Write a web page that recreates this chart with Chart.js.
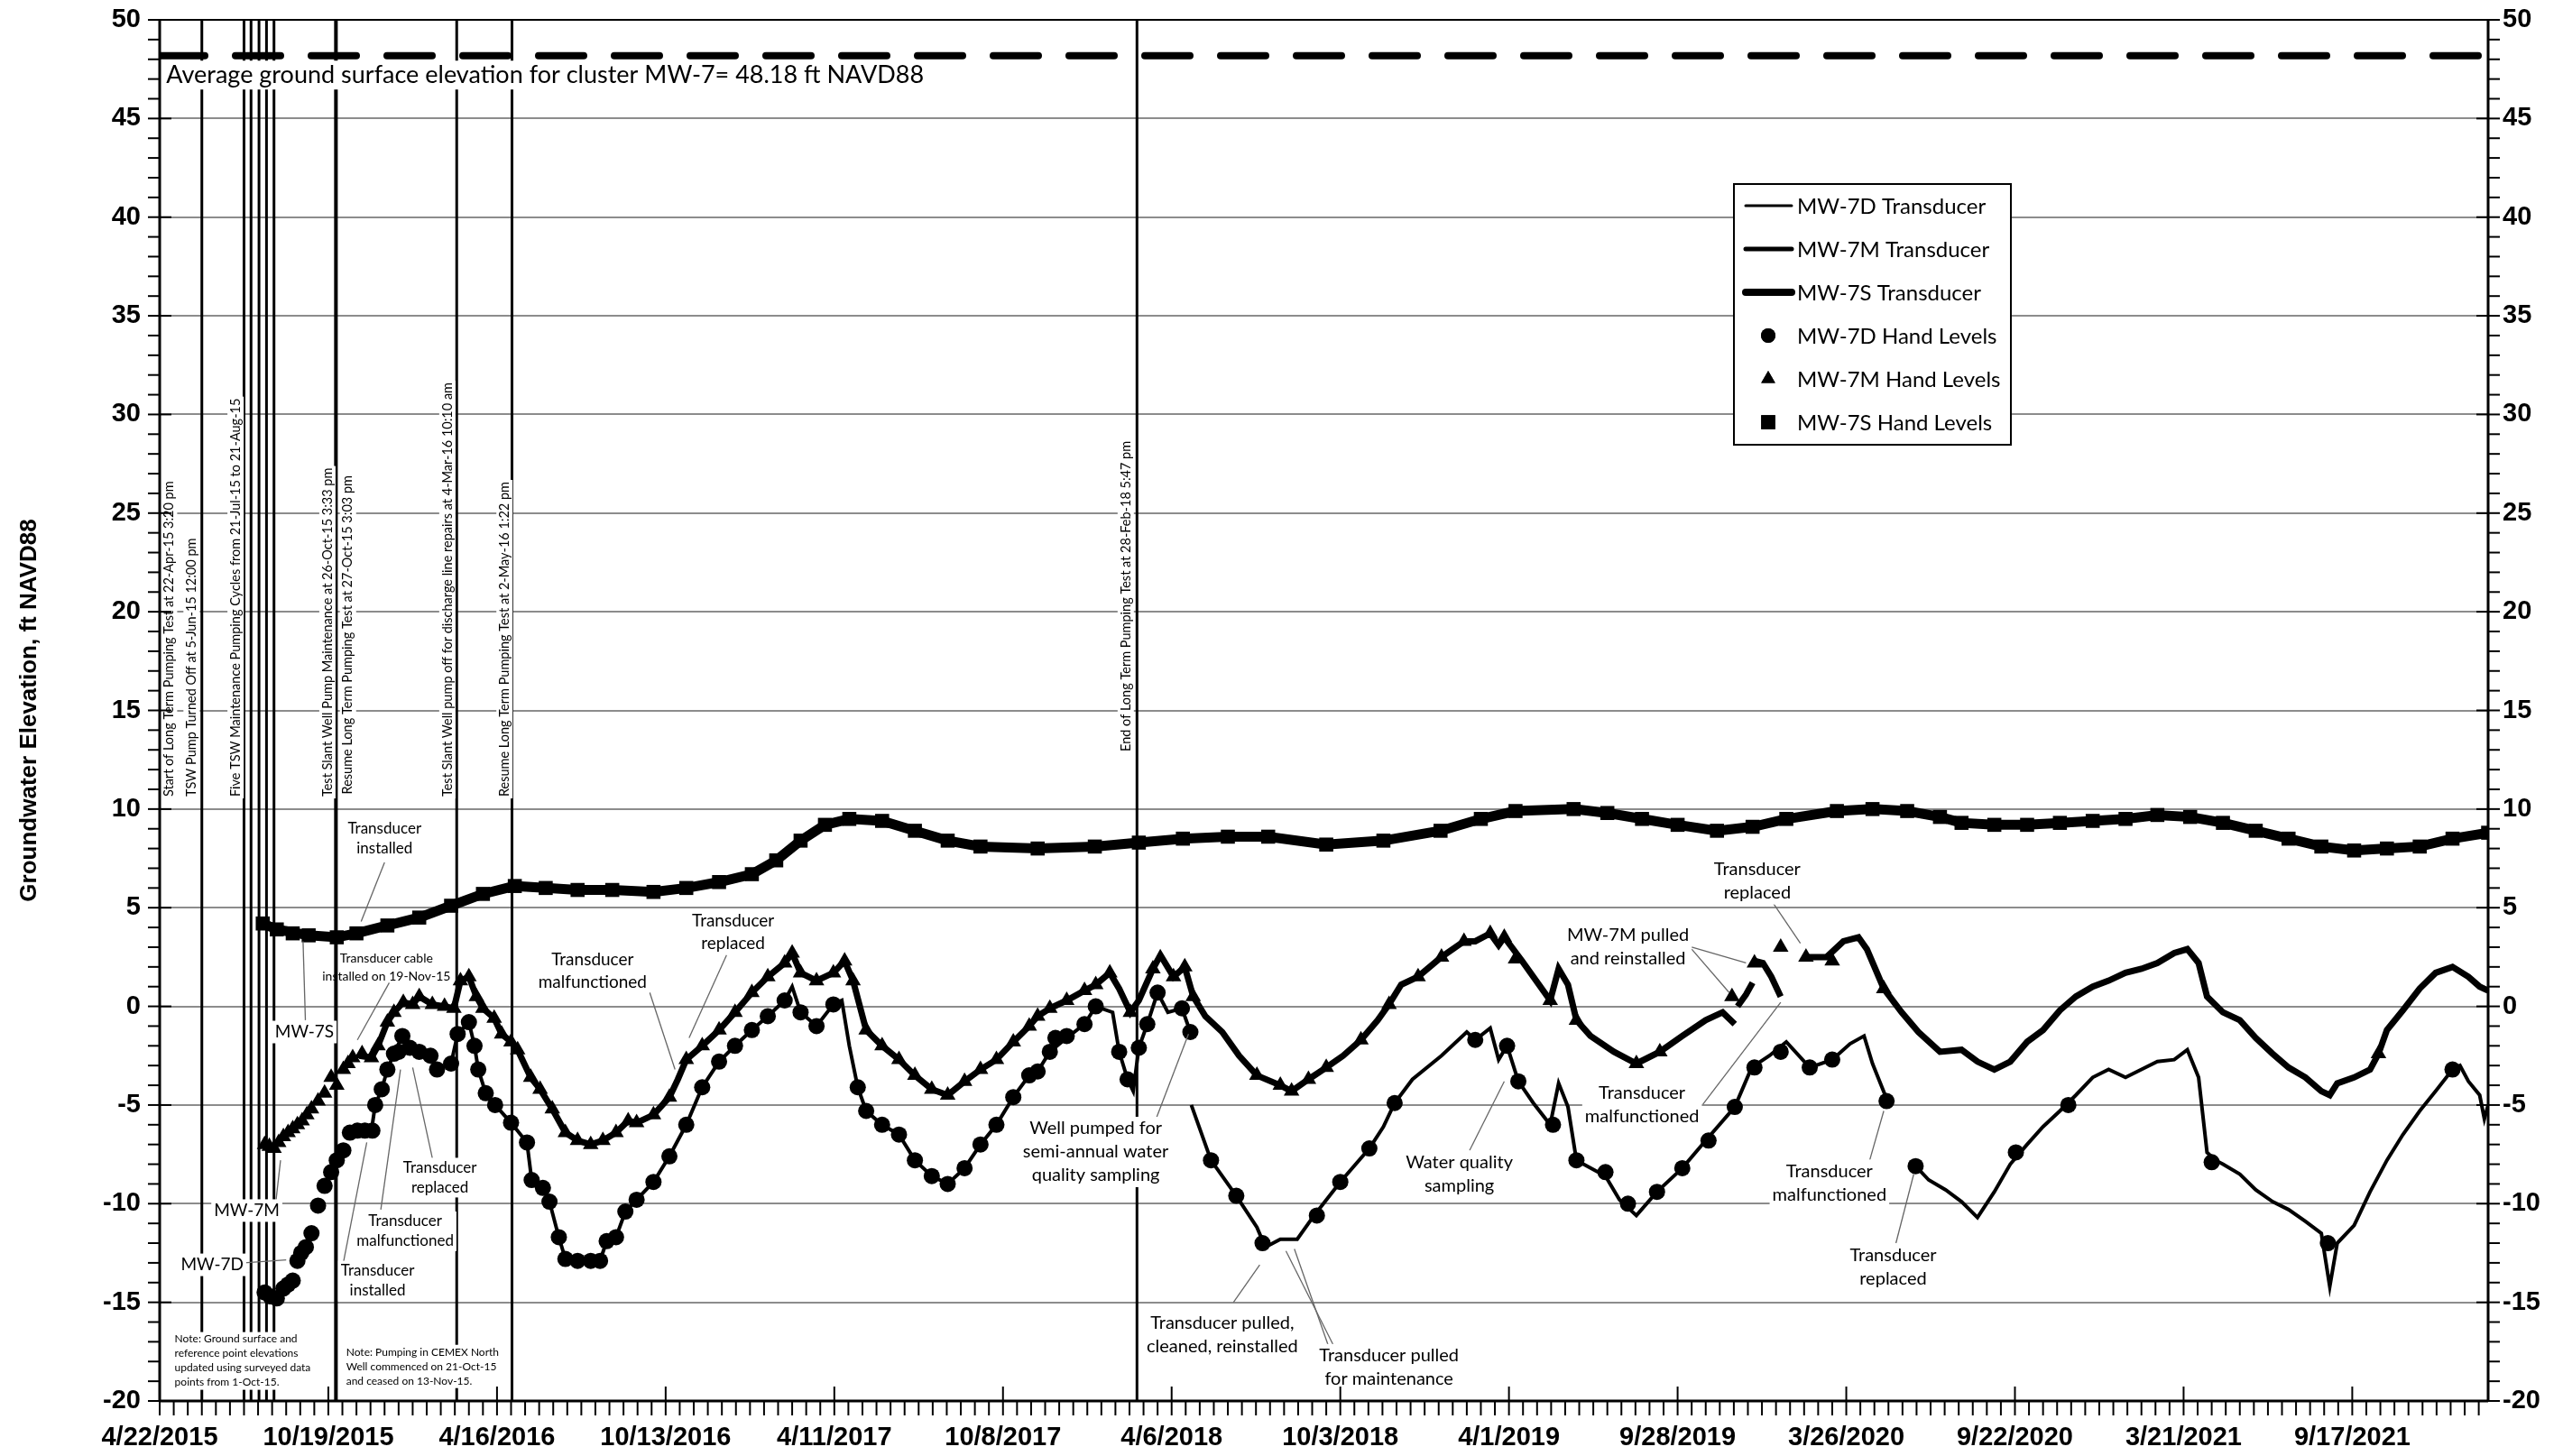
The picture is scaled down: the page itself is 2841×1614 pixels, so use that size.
<!DOCTYPE html>
<html>
<head>
<meta charset="utf-8">
<title>MW-7 groundwater elevation</title>
<script src="https://cdn.jsdelivr.net/npm/chart.js@4.4.1/dist/chart.umd.min.js"></script>
<style>
  html, body { margin: 0; padding: 0; background: #fff; }
</style>
</head>
<body>
<canvas id="chart-mw7" width="2841" height="1614"></canvas>
<script>
// x values are days counted from 4/22/2015 (start of the long term pumping test)
const xTickLabels = ['4/22/2015', '10/19/2015', '4/16/2016', '10/13/2016', '4/11/2017', '10/8/2017', '4/6/2018',
  '10/3/2018', '4/1/2019', '9/28/2019', '3/26/2020', '9/22/2020', '3/21/2021', '9/17/2021'];
const xTickStep = 180;
const xMax = 2485;
const yMin = -20, yMax = 50, yStep = 5;
const groundElev = 48.18;

// [day, elevation ft NAVD88]; null = gap in the record
const mw7dTransducer = [
  [226,-6.3],[230,-5.0],[237,-4.2],[243,-3.2],[250,-2.4],[259,-1.5],[262,-2.0],[267,-2.1],[277,-2.3],[289,-2.5],
  [296,-3.2],[311,-2.9],[318,-1.4],[330,-0.8],[336,-2.0],[340,-3.2],[348,-4.4],[358,-5.0],[375,-5.9],[392,-6.9],
  [397,-8.8],[409,-9.2],[416,-9.9],[426,-11.7],[433,-12.8],[446,-12.9],[460,-12.9],[470,-12.9],[477,-11.9],[487,-11.7],
  [497,-10.4],[509,-9.8],[527,-8.9],[544,-7.6],[562,-6.0],[579,-4.1],[597,-2.8],[614,-2.0],[632,-1.2],[649,-0.5],
  [667,0.3],[675,1.0],[684,-0.3],[701,-1.0],[719,0.1],[728,0.3],[736,-2.0],[745,-4.1],[754,-5.3],[771,-6.0],
  [789,-6.5],[806,-7.8],[824,-8.6],[841,-9.0],[859,-8.2],[876,-7.0],[893,-6.0],[911,-4.6],[928,-3.5],[937,-3.3],
  [950,-2.3],[968,-1.6],[987,-0.9],[999,0.0],[1017,-0.3],[1024,-2.3],[1033,-3.7],[1039,-4.3],[1045,-2.1],[1054,-0.9],
  [1065,0.7],[1076,-0.3],[1091,-0.1],[1100,-1.3],[1100.5,null],
  [1101,-5.0],[1122,-7.8],[1149,-9.6],[1171,-11.2],[1180,-12.2],[1196,-11.8],[1214,-11.8],[1232,-10.6],[1260,-8.9],
  [1291,-7.2],[1306,-6.1],[1318,-4.9],[1337,-3.7],[1368,-2.5],[1395,-1.3],[1404,-1.7],[1420,-1.1],[1429,-2.7],
  [1438,-2.0],[1450,-3.8],[1466,-4.9],[1484,-6.0],[1493,-3.9],[1503,-5.1],[1512,-7.8],[1543,-8.6],[1558,-9.8],
  [1576,-10.6],[1598,-9.4],[1625,-8.2],[1650,-6.8],[1681,-5.1],[1699,-3.1],[1718,-2.5],[1736,-1.8],[1761,-3.1],
  [1785,-2.7],[1804,-1.9],[1819,-1.5],[1828,-2.9],[1844,-4.8],[1860,null],
  [1874,-8.1],[1888,-8.8],[1906,-9.3],[1923,-9.9],[1940,-10.7],[1958,-9.4],[1975,-8.0],[1993,-7.0],[2010,-6.1],
  [2028,-5.3],[2045,-4.5],[2063,-3.6],[2080,-3.2],[2098,-3.6],[2115,-3.2],[2132,-2.8],[2150,-2.7],[2164,-2.2],
  [2176,-3.6],[2185,-7.4],[2194,-7.8],[2202,-8.0],[2220,-8.5],[2237,-9.3],[2255,-9.9],[2272,-10.3],[2290,-10.9],
  [2307,-11.5],[2316,-14.2],[2324,-12.0],[2342,-11.1],[2359,-9.4],[2377,-7.8],[2394,-6.5],[2412,-5.3],[2429,-4.3],
  [2447,-3.2],[2455,-3.0],[2464,-3.8],[2476,-4.5],[2481,-5.7],[2485,-5.0]
];

const mw7mTransducer = [
  [213,-2.5],[226,-2.6],[233,-2.0],[243,-0.8],[250,-0.3],[260,0.2],[270,0.1],[277,0.5],[291,0.1],[304,0.0],
  [314,-0.1],[321,1.3],[330,1.5],[338,0.5],[345,-0.1],[357,-0.6],[365,-1.4],[375,-1.8],[382,-2.2],[396,-3.6],
  [406,-4.2],[419,-5.2],[433,-6.4],[446,-6.8],[460,-7.0],[473,-6.8],[487,-6.4],[500,-5.8],[509,-5.9],[527,-5.5],
  [544,-4.6],[553,-3.7],[562,-2.7],[579,-2.0],[597,-1.2],[614,-0.3],[632,0.7],[649,1.5],[667,2.2],[675,2.7],
  [684,1.7],[701,1.3],[719,1.7],[731,2.3],[740,1.3],[754,-1.2],[771,-2.0],[789,-2.7],[806,-3.5],[824,-4.2],
  [841,-4.5],[859,-3.8],[876,-3.2],[893,-2.7],[911,-1.8],[928,-1.0],[937,-0.5],[950,-0.1],[968,0.3],[987,0.8],
  [999,1.1],[1014,1.7],[1024,0.9],[1036,-0.3],[1045,0.3],[1060,1.9],[1068,2.6],[1082,1.5],[1094,2.0],[1103,0.5],
  [1116,-0.5],[1134,-1.3],[1152,-2.5],[1171,-3.5],[1196,-4.0],[1208,-4.3],[1226,-3.7],[1245,-3.1],[1263,-2.5],
  [1282,-1.7],[1300,-0.7],[1312,0.1],[1325,1.1],[1343,1.5],[1368,2.5],[1392,3.3],[1404,3.3],[1420,3.7],[1429,3.1],
  [1435,3.5],[1454,2.3],[1472,1.1],[1484,0.3],[1493,1.9],[1503,1.1],[1512,-0.7],[1527,-1.5],[1552,-2.3],[1576,-2.9],
  [1601,-2.3],[1625,-1.5],[1650,-0.7],[1668,-0.3],[1681,-0.9],[1682,null],
  [1684,0.0],[1693,0.6],[1700,1.2],[1701,null],
  [1703,2.3],[1711,2.2],[1720,1.5],[1730,0.5],[1740,null],
  [1757,2.5],[1779,2.5],[1797,3.3],[1813,3.5],[1822,2.9],[1840,0.9],[1859,-0.3],[1877,-1.3],[1900,-2.3],[1923,-2.2],
  [1940,-2.8],[1958,-3.2],[1975,-2.8],[1993,-1.8],[2010,-1.2],[2028,-0.2],[2045,0.5],[2063,1.0],[2080,1.3],[2098,1.7],
  [2115,1.9],[2132,2.2],[2150,2.7],[2164,2.9],[2176,2.2],[2185,0.5],[2202,-0.3],[2220,-0.7],[2237,-1.6],[2255,-2.4],
  [2272,-3.1],[2290,-3.6],[2307,-4.3],[2316,-4.5],[2324,-3.9],[2342,-3.6],[2359,-3.2],[2368,-2.4],[2377,-1.2],
  [2394,-0.2],[2412,0.9],[2429,1.7],[2447,2.0],[2464,1.5],[2476,1.0],[2485,0.8]
];

const mw7sTransducer = [
  [110,4.2],[125,3.9],[159,3.6],[189,3.5],[210,3.7],[243,4.1],[277,4.5],[311,5.1],[345,5.7],[379,6.1],[412,6.0],
  [446,5.9],[483,5.9],[527,5.8],[562,6.0],[597,6.3],[632,6.7],[658,7.4],[684,8.4],[710,9.2],[736,9.5],[771,9.4],
  [806,8.9],[841,8.4],[876,8.1],[937,8.0],[998,8.1],[1045,8.3],[1092,8.5],[1140,8.6],[1183,8.6],[1245,8.2],
  [1306,8.4],[1367,8.9],[1410,9.5],[1447,9.9],[1509,10.0],[1545,9.8],[1582,9.5],[1620,9.2],[1662,8.9],[1700,9.1],
  [1736,9.5],[1790,9.9],[1828,10.0],[1865,9.9],[1900,9.6],[1923,9.3],[1958,9.2],[1993,9.2],[2028,9.3],[2063,9.4],
  [2098,9.5],[2132,9.7],[2167,9.6],[2202,9.3],[2237,8.9],[2272,8.5],[2307,8.1],[2342,7.9],[2377,8.0],[2412,8.1],
  [2447,8.5],[2485,8.8]
];

const mw7dHand = [
  [112,-14.5],[118,-14.7],[125,-14.8],[132,-14.3],[137,-14.1],[142,-13.9],[147,-12.9],[151,-12.5],[156,-12.2],
  [162,-11.5],[169,-10.1],[176,-9.1],[183,-8.4],[189,-7.8],[196,-7.3],[203,-6.4],[211,-6.3],[219,-6.3],[227,-6.3],
  [230,-5.0],[237,-4.2],[243,-3.2],[250,-2.4],[255,-2.3],[259,-1.5],[267,-2.1],[277,-2.3],[289,-2.5],[296,-3.2],
  [311,-2.9],[318,-1.4],[330,-0.8],[336,-2.0],[340,-3.2],[348,-4.4],[358,-5.0],[375,-5.9],[392,-6.9],[397,-8.8],
  [409,-9.2],[416,-9.9],[426,-11.7],[433,-12.8],[446,-12.9],[460,-12.9],[470,-12.9],[477,-11.9],[487,-11.7],
  [497,-10.4],[509,-9.8],[527,-8.9],[544,-7.6],[562,-6.0],[579,-4.1],[597,-2.8],[614,-2.0],[632,-1.2],[649,-0.5],
  [667,0.3],[684,-0.3],[701,-1.0],[719,0.1],[745,-4.1],[754,-5.3],[771,-6.0],[789,-6.5],[806,-7.8],[824,-8.6],
  [841,-9.0],[859,-8.2],[876,-7.0],[893,-6.0],[911,-4.6],[928,-3.5],[937,-3.3],[950,-2.3],[956,-1.6],[968,-1.5],
  [987,-0.9],[999,0.0],[1024,-2.3],[1033,-3.7],[1045,-2.1],[1054,-0.9],[1065,0.7],[1091,-0.1],[1100,-1.3],
  [1122,-7.8],[1149,-9.6],[1177,-12.0],[1235,-10.6],[1260,-8.9],[1291,-7.2],[1318,-4.9],[1404,-1.7],[1438,-2.0],
  [1450,-3.8],[1487,-6.0],[1512,-7.8],[1543,-8.4],[1567,-10.0],[1598,-9.4],[1625,-8.2],[1653,-6.8],[1681,-5.1],
  [1702,-3.1],[1730,-2.3],[1761,-3.1],[1785,-2.7],[1843,-4.8],[1874,-8.1],[1981,-7.4],[2037,-5.0],[2190,-7.9],
  [2314,-12.0],[2447,-3.2]
];

const mw7mHand = [
  [112,-7.0],[117,-7.1],[122,-7.2],[127,-6.9],[132,-6.6],[137,-6.4],[142,-6.2],[147,-6.0],[152,-5.8],[157,-5.5],
  [162,-5.2],[169,-4.8],[176,-4.4],[183,-3.6],[189,-4.0],[196,-3.2],[201,-2.9],[206,-2.6],[216,-2.4],[226,-2.6],
  [233,-2.0],[243,-0.8],[250,-0.3],[260,0.2],[270,0.1],[277,0.5],[291,0.1],[304,0.0],[314,-0.1],[321,1.3],[330,1.5],
  [338,0.5],[345,-0.1],[357,-0.6],[365,-1.4],[375,-1.8],[382,-2.2],[396,-3.6],[406,-4.2],[419,-5.2],[433,-6.4],
  [446,-6.8],[460,-7.0],[473,-6.8],[487,-6.4],[500,-5.8],[509,-5.9],[527,-5.5],[544,-4.6],[562,-2.7],[579,-2.0],
  [597,-1.2],[614,-0.3],[632,0.7],[649,1.5],[667,2.2],[675,2.7],[684,1.7],[701,1.3],[719,1.7],[731,2.3],[740,1.3],
  [754,-1.2],[771,-2.0],[789,-2.7],[806,-3.5],[824,-4.2],[841,-4.5],[859,-3.8],[876,-3.2],[893,-2.7],[911,-1.8],
  [928,-1.0],[937,-0.5],[950,-0.1],[968,0.3],[987,0.8],[999,1.1],[1014,1.7],[1036,-0.3],[1060,1.9],[1082,1.5],
  [1094,2.0],[1103,0.5],[1171,-3.5],[1196,-4.0],[1208,-4.3],[1226,-3.7],[1245,-3.1],[1282,-1.7],[1312,0.1],
  [1343,1.5],[1368,2.5],[1392,3.3],[1420,3.7],[1435,3.5],[1447,2.4],[1484,0.3],[1512,-0.7],[1576,-2.9],[1601,-2.3],
  [1678,0.5],[1702,2.2],[1730,3.0],[1757,2.5],[1785,2.3],[1840,0.9],[2368,-2.4]
];

const mw7sHand = [
  [110,4.2],[125,3.9],[142,3.7],[159,3.6],[189,3.5],[210,3.7],[243,4.1],[277,4.5],[311,5.1],[345,5.7],[379,6.1],
  [412,6.0],[446,5.9],[483,5.9],[527,5.8],[562,6.0],[597,6.3],[632,6.7],[658,7.4],[684,8.4],[710,9.2],[736,9.5],
  [771,9.4],[806,8.9],[841,8.4],[876,8.1],[937,8.0],[998,8.1],[1045,8.3],[1092,8.5],[1140,8.6],[1183,8.6],
  [1245,8.2],[1306,8.4],[1367,8.9],[1410,9.5],[1447,9.9],[1509,10.0],[1545,9.8],[1582,9.5],[1620,9.2],[1662,8.9],
  [1700,9.1],[1736,9.5],[1790,9.9],[1828,10.0],[1865,9.9],[1900,9.6],[1923,9.3],[1958,9.2],[1993,9.2],[2028,9.3],
  [2063,9.4],[2098,9.5],[2132,9.7],[2167,9.6],[2202,9.3],[2237,8.9],[2272,8.5],[2307,8.1],[2342,7.9],[2377,8.0],
  [2412,8.1],[2447,8.5],[2485,8.8]
];

// pumping test events, vertical lines
const eventDays = [45, 90, 97.5, 106, 114, 122, 187.6, 188.6, 317, 376, 1043];
const eventTexts = [
  'Start of Long Term Pumping Test at 22-Apr-15 3:20 pm',
  'TSW Pump Turned Off at 5-Jun-15 12:00 pm',
  'Five TSW Maintenance Pumping Cycles from 21-Jul-15 to 21-Aug-15',
  'Test Slant Well Pump Maintenance at 26-Oct-15 3:33 pm',
  'Resume Long Term Pumping Test at 27-Oct-15 3:03 pm',
  'Test Slant Well pump off for discharge line repairs at 4-Mar-16 10:10 am',
  'Resume Long Term Pumping Test at 2-May-16 1:22 pm',
  'End of Long Term Pumping Test at 28-Feb-18 5:47 pm'
];
const eventTextAt = [[10,10.63],[34,10.63],[81,10.63],[179,10.63],[201,10.75],[307,10.63],[368,10.63],[1031,12.92]];

const FONT = "Lato, 'Liberation Sans', sans-serif";
const TICKFONT = "'Liberation Sans', Arial, sans-serif";

// callouts: text block centre [day, elev], leader lines [[from],[to]]
const callouts = [
  { lines: ['Transducer', 'installed'], at: [240, 8.5], size: 17, leaders: [[[240, 7.3], [215, 4.3]]] },
  { lines: ['MW-7S'], at: [154.5, -1.3], size: 19, leaders: [[[155.5, -0.7], [153, 3.3]]] },
  { lines: ['Transducer cable', 'installed on 19-Nov-15'], at: [242, 1.97], size: 14, lh: 20, bg: false,
    leaders: [[[245, 1.2], [211, -1.7]]] },
  { lines: ['MW-7M'], at: [93, -10.35], size: 19, leaders: [[[124, -9.9], [129, -7.8]]] },
  { lines: ['MW-7D'], at: [56, -13.1], size: 19, leaders: [[[90, -13.0], [135, -12.85]]] },
  { lines: ['Transducer', 'replaced'], at: [299, -8.68], size: 17, leaders: [[[291, -7.7], [270, -3.1]]] },
  { lines: ['Transducer', 'malfunctioned'], at: [262, -11.4], size: 17, leaders: [[[236, -10.3], [257, -3.2]]] },
  { lines: ['Transducer', 'installed'], at: [232.6, -13.9], size: 17, leaders: [[[196, -13.0], [221, -6.9]]] },
  { lines: ['Transducer', 'malfunctioned'], at: [462, 1.8], size: 19, leaders: [[[523, 0.7], [550, -3.2]]] },
  { lines: ['Transducer', 'replaced'], at: [612, 3.77], size: 19, leaders: [[[605, 2.6], [565, -1.6]]] },
  { lines: ['Well pumped for', 'semi-annual water', 'quality sampling'], at: [999, -7.38], size: 20,
    leaders: [[[1063, -5.75], [1098, -1.4]]] },
  { lines: ['Transducer pulled,', 'cleaned, reinstalled'], at: [1134, -16.65], size: 20,
    leaders: [[[1146, -15.0], [1174, -13.1]]] },
  { lines: ['Transducer pulled', 'for maintenance'], at: [1312, -18.3], size: 20,
    leaders: [[[1254, -17.3], [1202, -12.4]], [[1248, -17.3], [1211, -12.3]]] },
  { lines: ['Water quality', 'sampling'], at: [1387, -8.5], size: 20, leaders: [[[1398, -7.3], [1435, -3.8]]] },
  { lines: ['Transducer', 'malfunctioned'], at: [1582, -4.97], size: 20, leaders: [[[1647, -4.96], [1730, 0.2]]] },
  { lines: ['MW-7M pulled', 'and reinstalled'], at: [1567, 3.04], size: 20,
    leaders: [[[1635, 3.0], [1693, 2.2]], [[1635, 2.9], [1675, 0.7]]] },
  { lines: ['Transducer', 'replaced'], at: [1705, 6.35], size: 20, leaders: [[[1721, 5.3], [1751, 3.2]]] },
  { lines: ['Transducer', 'malfunctioned'], at: [1782, -8.95], size: 20, leaders: [[[1825, -7.8], [1840, -5.3]]] },
  { lines: ['Transducer', 'replaced'], at: [1850, -13.2], size: 20, leaders: [[[1853, -12.0], [1872, -8.5]]] }
];

const notes = [
  { lines: ['Note: Ground surface and', 'reference point elevations', 'updated using surveyed data', 'points from 1-Oct-15.'],
    at: [16, -17.97] },
  { lines: ['Note: Pumping in CEMEX North', 'Well commenced on 21-Oct-15', 'and ceased on 13-Nov-15.'],
    at: [199, -18.25] }
];
const groundText = 'Average ground surface elevation for cluster MW-7= 48.18 ft NAVD88';

function toXY(pairs) {
  return pairs.map(p => ({ x: p[0], y: p[1] }));
}

function textBlock(ctx, px, py, lines, size, lh, align, bg) {
  ctx.font = size + 'px ' + FONT;
  const w = Math.max(...lines.map(l => ctx.measureText(l).width));
  const h = lines.length * lh;
  const left = align === 'left' ? px : px - w / 2;
  if (bg) {
    ctx.fillStyle = '#fff';
    ctx.fillRect(left - 3, py - h / 2, w + 6, h);
  }
  ctx.fillStyle = '#000';
  ctx.textAlign = align;
  ctx.textBaseline = 'middle';
  lines.forEach((l, i) => ctx.fillText(l, px, py - h / 2 + lh * (i + 0.5)));
}

const annotations = {
  id: 'annotations',
  beforeDatasetsDraw(chart) {
    const { ctx, scales: { x, y } } = chart;
    ctx.save();
    ctx.strokeStyle = '#000';
    ctx.lineWidth = 3;
    eventDays.forEach(d => {
      const px = x.getPixelForValue(d);
      ctx.beginPath();
      ctx.moveTo(px, y.getPixelForValue(yMax));
      ctx.lineTo(px, y.getPixelForValue(yMin));
      ctx.stroke();
    });
    ctx.restore();
  },
  afterDatasetsDraw(chart) {
    const { ctx, scales: { x, y } } = chart;
    ctx.save();
    // leader lines
    ctx.strokeStyle = '#666';
    ctx.lineWidth = 1.3;
    callouts.forEach(c => c.leaders.forEach(([a, b]) => {
      ctx.beginPath();
      ctx.moveTo(x.getPixelForValue(a[0]), y.getPixelForValue(a[1]));
      ctx.lineTo(x.getPixelForValue(b[0]), y.getPixelForValue(b[1]));
      ctx.stroke();
    }));
    callouts.forEach(c => {
      textBlock(ctx, x.getPixelForValue(c.at[0]), y.getPixelForValue(c.at[1]), c.lines, c.size,
        c.lh || Math.round(c.size * 1.3), 'center', c.bg !== false);
    });
    notes.forEach(n => {
      textBlock(ctx, x.getPixelForValue(n.at[0]), y.getPixelForValue(n.at[1]), n.lines, 12, 16, 'left', true);
    });
    // rotated event texts
    ctx.font = '14.5px ' + FONT;
    eventTexts.forEach((t, i) => {
      const [d, v] = eventTextAt[i];
      const w = ctx.measureText(t).width;
      ctx.save();
      ctx.translate(x.getPixelForValue(d), y.getPixelForValue(v));
      ctx.rotate(-Math.PI / 2);
      ctx.fillStyle = '#fff';
      ctx.fillRect(-2, -9, w + 4, 18);
      ctx.fillStyle = '#000';
      ctx.textAlign = 'left';
      ctx.textBaseline = 'middle';
      ctx.fillText(t, 0, 0);
      ctx.restore();
    });
    // ground surface caption
    textBlock(ctx, x.getPixelForValue(7), y.getPixelForValue(47.2), [groundText], 27, 32, 'left', true);
    ctx.restore();
  }
};

// axis frame with major and minor tick marks
const axisFrame = {
  id: 'axisFrame',
  afterDatasetsDraw(chart) {
    const { ctx, chartArea: a, scales: { x, y } } = chart;
    const seg = (x1, y1, x2, y2) => { ctx.beginPath(); ctx.moveTo(x1, y1); ctx.lineTo(x2, y2); ctx.stroke(); };
    ctx.save();
    ctx.strokeStyle = '#000';
    ctx.lineWidth = 2;
    for (let v = yMin; v <= yMax; v++) {
      const py = y.getPixelForValue(v);
      const major = v % yStep === 0;
      seg(a.left - 13, py, a.left + (major ? 13 : 0), py);
      seg(a.right - (major ? 13 : 0), py, a.right + 13, py);
    }
    for (let d = 0; d <= xMax; d += 15) {
      const px = x.getPixelForValue(d);
      const major = d % xTickStep === 0;
      seg(px, a.bottom - (major ? 16 : 0), px, a.bottom + 16);
    }
    ctx.lineWidth = 3;
    seg(a.left, a.top, a.left, a.bottom);
    seg(a.right, a.top, a.right, a.bottom);
    seg(a.left, a.bottom, a.right, a.bottom);
    ctx.lineWidth = 2;
    seg(a.left, a.top, a.right, a.top);
    ctx.restore();
  }
};

// legend box drawn from the datasets
const legendBox = {
  id: 'legendBox',
  afterDraw(chart) {
    const { ctx } = chart;
    const bx = 1922, by = 204, bw = 307, bh = 289;
    ctx.save();
    ctx.fillStyle = '#fff';
    ctx.fillRect(bx, by, bw, bh);
    ctx.strokeStyle = '#000';
    ctx.lineWidth = 2;
    ctx.strokeRect(bx, by, bw, bh);
    const items = chart.data.datasets.filter(ds => ds.inLegend).sort((a, b) => a.inLegend - b.inLegend);
    items.forEach((ds, i) => {
      const cy = by + 24 + i * 48;
      ctx.fillStyle = '#000';
      if (ds.showLine) {
        ctx.lineWidth = ds.legendWidth;
        ctx.lineCap = 'round';
        ctx.beginPath();
        ctx.moveTo(1935, cy);
        ctx.lineTo(1986, cy);
        ctx.stroke();
      } else {
        Chart.helpers.drawPoint(ctx, { pointStyle: ds.pointStyle, radius: ds.legendRadius, borderWidth: 0, rotation: 0 },
          1960, cy);
        ctx.fill();
      }
      ctx.font = '24px ' + FONT;
      ctx.textAlign = 'left';
      ctx.textBaseline = 'middle';
      ctx.fillText(ds.label, 1992, cy + 1);
    });
    ctx.restore();
  }
};

const ctx = document.getElementById('chart-mw7');

new Chart(ctx, {
  type: 'scatter',
  data: {
    datasets: [
      {
        label: 'Ground surface',
        data: toXY([[0, groundElev], [xMax, groundElev]]),
        showLine: true,
        borderColor: '#000',
        borderWidth: 8,
        borderDash: [50, 34],
        borderCapStyle: 'round',
        pointRadius: 0
      },
      {
        label: 'MW-7S Hand Levels',
        data: toXY(mw7sHand),
        pointStyle: 'rect',
        pointRadius: 11,
        backgroundColor: '#000',
        borderWidth: 0,
        inLegend: 6,
        legendRadius: 11
      },
      {
        label: 'MW-7M Hand Levels',
        data: toXY(mw7mHand),
        pointStyle: 'triangle',
        pointRadius: 10,
        backgroundColor: '#000',
        borderWidth: 0,
        inLegend: 5,
        legendRadius: 9
      },
      {
        label: 'MW-7D Hand Levels',
        data: toXY(mw7dHand),
        pointStyle: 'circle',
        pointRadius: 9,
        backgroundColor: '#000',
        borderWidth: 0,
        inLegend: 4,
        legendRadius: 8
      },
      {
        label: 'MW-7S Transducer',
        data: toXY(mw7sTransducer),
        showLine: true,
        borderColor: '#000',
        borderWidth: 11,
        pointRadius: 0,
        inLegend: 3,
        legendWidth: 8
      },
      {
        label: 'MW-7M Transducer',
        data: toXY(mw7mTransducer),
        showLine: true,
        borderColor: '#000',
        borderWidth: 7,
        pointRadius: 0,
        inLegend: 2,
        legendWidth: 5
      },
      {
        label: 'MW-7D Transducer',
        data: toXY(mw7dTransducer),
        showLine: true,
        borderColor: '#000',
        borderWidth: 4,
        pointRadius: 0,
        inLegend: 1,
        legendWidth: 3
      }
    ]
  },
  options: {
    responsive: false,
    animation: false,
    events: [],
    layout: { padding: { top: 22, left: 0, right: 0, bottom: 0 } },
    elements: { line: { tension: 0 } },
    scales: {
      x: {
        type: 'linear',
        min: 0,
        max: xMax,
        afterBuildTicks(scale) {
          scale.ticks = xTickLabels.map((_, i) => ({ value: i * xTickStep }));
        },
        afterFit(scale) { scale.height = 61; scale.paddingLeft = 0; scale.paddingRight = 0; },
        grid: { display: false, drawTicks: false },
        border: { display: false },
        ticks: {
          autoSkip: false,
          maxRotation: 0,
          padding: 24,
          color: '#000',
          font: { family: TICKFONT, size: 29, weight: 'bold' },
          callback: (v, i) => xTickLabels[i]
        }
      },
      y: {
        position: 'left',
        min: yMin,
        max: yMax,
        afterFit(scale) { scale.width = 177; scale.paddingTop = 0; scale.paddingBottom = 0; },
        grid: {
          drawTicks: false,
          lineWidth: 2,
          color: c => (c.tick.value === yMin || c.tick.value === yMax) ? 'rgba(0,0,0,0)' : '#8c8c8c'
        },
        border: { display: false },
        title: {
          display: true,
          text: 'Groundwater Elevation, ft NAVD88',
          color: '#000',
          font: { family: TICKFONT, size: 26, weight: 'bold' },
          padding: { top: 17, bottom: 0 }
        },
        ticks: {
          stepSize: yStep,
          padding: 21,
          color: '#000',
          font: { family: TICKFONT, size: 29, weight: 'bold' }
        }
      },
      y2: {
        position: 'right',
        min: yMin,
        max: yMax,
        afterFit(scale) { scale.width = 83; scale.paddingTop = 0; scale.paddingBottom = 0; },
        grid: { display: false, drawTicks: false },
        border: { display: false },
        ticks: {
          stepSize: yStep,
          padding: 16,
          color: '#000',
          font: { family: TICKFONT, size: 29, weight: 'bold' }
        }
      }
    },
    plugins: {
      legend: { display: false },
      tooltip: { enabled: false }
    }
  },
  plugins: [annotations, axisFrame, legendBox]
});
</script>
</body>
</html>
